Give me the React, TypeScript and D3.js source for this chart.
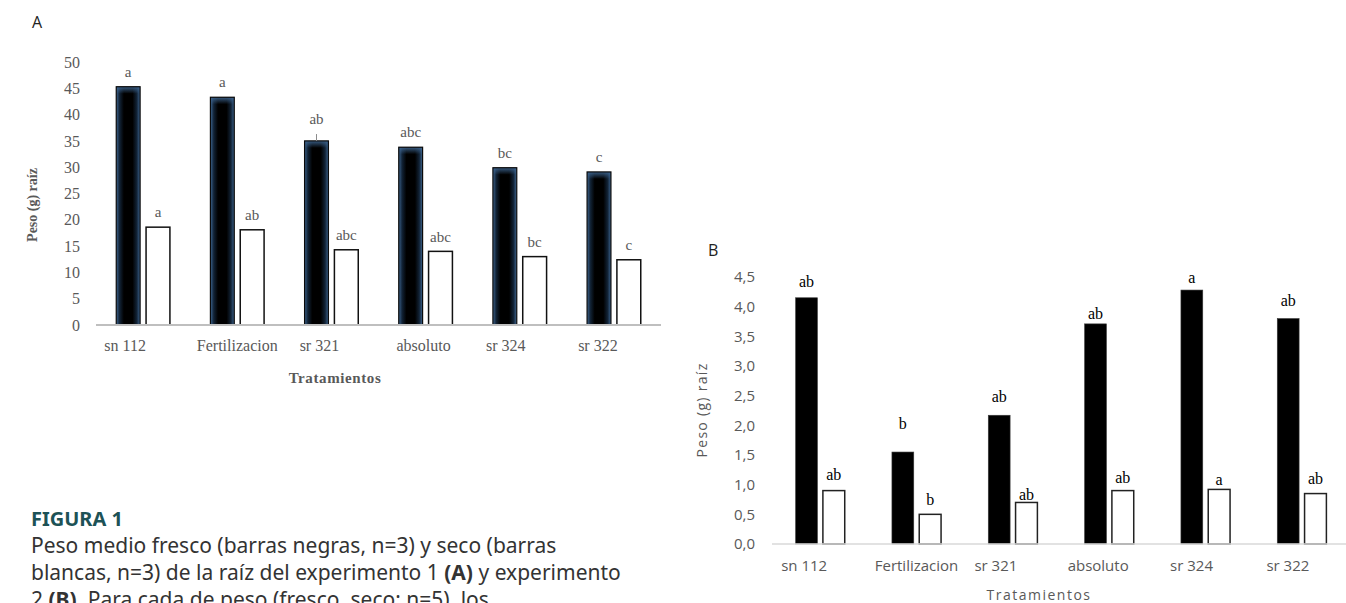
import React, { useEffect } from "react";
import * as d3 from "d3";

// Treatments (same order in both experiments)
const treatments = ["sn 112", "Fertilizacion", "sr 321", "absoluto", "sr 324", "sr 322"];
const seriesKeys = ["fresco", "seco"];

// Experiment 1 (A): root weight (g)
const freshA = [45.3, 43.3, 35.0, 33.8, 29.9, 29.1];
const dryA = [18.6, 18.1, 14.3, 14.0, 13.0, 12.4];
const freshErrA = [0, 0, 1.3, 0, 0, 0];
const dryErrA = [0, 0, 0, 0, 0, 0];
const freshLettersA = ["a", "a", "ab", "abc", "bc", "c"];
const dryLettersA = ["a", "ab", "abc", "abc", "bc", "c"];
const ticksA = [0, 5, 10, 15, 20, 25, 30, 35, 40, 45, 50];

// Experiment 2 (B): root weight (g)
const freshB = [4.15, 1.55, 2.17, 3.71, 4.28, 3.8];
const dryB = [0.9, 0.5, 0.7, 0.9, 0.92, 0.85];
const freshSeB = [0.135, 0.34, 0.19, 0.045, 0.08, 0.17];
const drySeB = [0.14, 0.12, 0.0, 0.09, 0.04, 0.12];
const freshLettersB = ["ab", "b", "ab", "ab", "a", "ab"];
const dryLettersB = ["ab", "b", "ab", "ab", "a", "ab"];
const ticksB = [0, 0.5, 1, 1.5, 2, 2.5, 3, 3.5, 4, 4.5];

// Category label offsets (Excel-style trailing padding on short names)
const labelShiftA = [-18, 0, -12, -2, -14, -16];
const labelShiftB = [-16, 0, -17, -11, -14, -14];

const serif = "'Liberation Serif', 'Times New Roman', serif";
const sans = "'Open Sans', 'Noto Sans', sans-serif";
const capFont = "'Noto Sans', 'Open Sans', sans-serif";

const commaFmt = d3.formatLocale({ decimal: ",", thousands: ".", grouping: [3], currency: ["", "€"] }).format(".1f");

function ChartA() {
  const left = 96, right = 661, top = 62, bottom = 325;
  const x0 = d3.scaleBand<string>().domain(treatments).range([left, right]).paddingInner(0.43).paddingOuter(0.215);
  const x1 = d3.scaleBand<string>().domain(seriesKeys).range([0, x0.bandwidth()]).paddingInner(0.2);
  const y = d3.scaleLinear().domain([0, 50]).range([bottom, top]);
  const grey = "#595959";
  return (
    <g>
      <defs>
        <linearGradient id="barGradH" x1="0" x2="1" y1="0" y2="0">
          <stop offset="0" stopColor="#3d6590" />
          <stop offset="0.14" stopColor="#122336" />
          <stop offset="0.32" stopColor="#000" />
          <stop offset="0.68" stopColor="#000" />
          <stop offset="0.86" stopColor="#122336" />
          <stop offset="1" stopColor="#3d6590" />
        </linearGradient>
        <linearGradient id="barGradV" x1="0" x2="0" y1="0" y2="1">
          <stop offset="0" stopColor="#3d6590" stopOpacity="0.9" />
          <stop offset="1" stopColor="#3d6590" stopOpacity="0" />
        </linearGradient>
      </defs>
      <text x={32} y={28} fontFamily={sans} fontSize={16} fill="#222">A</text>
      {ticksA.map((t) => (
        <text key={t} x={left - 16} y={y(t)} dy="0.35em" textAnchor="end" fontFamily={serif} fontSize={16} fill={grey}>
          {t}
        </text>
      ))}
      {treatments.map((c, i) => {
        const gx = x0(c)!;
        const fx = gx + x1("fresco")!;
        const dx = gx + x1("seco")!;
        const bw = x1.bandwidth();
        const fTop = y(freshA[i]);
        const dTop = y(dryA[i]);
        const fErrTop = y(freshA[i] + freshErrA[i]);
        const dErrTop = y(dryA[i] + dryErrA[i]);
        return (
          <g key={c}>
            <rect x={fx} y={fTop} width={bw} height={bottom - fTop} fill="url(#barGradH)" />
            <rect x={fx} y={fTop} width={bw} height={Math.min(7, bottom - fTop)} fill="url(#barGradV)" />
            <rect x={fx} y={fTop} width={bw} height={bottom - fTop} fill="none" stroke="#0a0a0a" strokeWidth={1.2} />
            <rect x={dx} y={dTop} width={bw} height={bottom - dTop} fill="#fff" stroke="#111" strokeWidth={1.5} />
            {freshErrA[i] > 0 && (
              <line x1={fx + bw / 2} x2={fx + bw / 2} y1={fTop} y2={fErrTop} stroke="#8c8c8c" strokeWidth={1} />
            )}
            <text x={fx + bw / 2} y={fErrTop - 15} dy="0.35em" textAnchor="middle" fontFamily={serif} fontSize={15} fill={grey}>
              {freshLettersA[i]}
            </text>
            <text x={dx + bw / 2} y={dErrTop - 15} dy="0.35em" textAnchor="middle" fontFamily={serif} fontSize={15} fill={grey}>
              {dryLettersA[i]}
            </text>
            <text x={gx + x0.bandwidth() / 2 + labelShiftA[i]} y={bottom + 20} dy="0.35em" textAnchor="middle" fontFamily={serif} fontSize={16} fill={grey}>
              {c}
            </text>
          </g>
        );
      })}
      <line x1={left} x2={right} y1={bottom} y2={bottom} stroke="#bfbfbf" strokeWidth={2.2} />
      <text transform={`translate(32,205) rotate(-90)`} dy="0.35em" textAnchor="middle" fontFamily={serif} fontWeight="bold" fontSize={14} fill={grey}>
        Peso (g) raíz
      </text>
      <text x={335} y={378} dy="0.35em" textAnchor="middle" fontFamily={serif} fontWeight="bold" fontSize={15} letterSpacing={0.6} fill={grey}>
        Tratamientos
      </text>
    </g>
  );
}

function ChartB() {
  const left = 772, right = 1350, top = 277, bottom = 544;
  const x0 = d3.scaleBand<string>().domain(treatments).range([left, right]).paddingInner(0.49).paddingOuter(0.245);
  const x1 = d3.scaleBand<string>().domain(seriesKeys).range([0, x0.bandwidth()]).paddingInner(0.2);
  const y = d3.scaleLinear().domain([0, 4.5]).range([bottom, top]);
  const grey = "#595959";
  return (
    <g>
      <text x={708} y={256} fontFamily={sans} fontSize={16} fill="#222">B</text>
      {ticksB.map((t) => (
        <text key={t} x={left - 17} y={y(t)} dy="0.35em" textAnchor="end" fontFamily={sans} fontSize={15} fill={grey}>
          {commaFmt(t)}
        </text>
      ))}
      {treatments.map((c, i) => {
        const gx = x0(c)!;
        const fx = gx + x1("fresco")!;
        const dx = gx + x1("seco")!;
        const bw = x1.bandwidth();
        const fTop = y(freshB[i]);
        const dTop = y(dryB[i]);
        return (
          <g key={c}>
            <rect x={fx} y={fTop} width={bw} height={bottom - fTop} fill="#000" stroke="#3a3a3a" strokeWidth={0.6} />
            <rect x={dx} y={dTop} width={bw} height={bottom - dTop} fill="#fff" stroke="#222" strokeWidth={1.5} />
            <text x={fx + bw / 2} y={y(freshB[i] + freshSeB[i]) - 8} dy="0.35em" textAnchor="middle" fontFamily={serif} fontSize={16} fill="#000">
              {freshLettersB[i]}
            </text>
            <text x={dx + bw / 2} y={y(dryB[i] + drySeB[i]) - 8} dy="0.35em" textAnchor="middle" fontFamily={serif} fontSize={16} fill="#000">
              {dryLettersB[i]}
            </text>
            <text x={gx + x0.bandwidth() / 2 + labelShiftB[i]} y={bottom + 22} dy="0.35em" textAnchor="middle" fontFamily={sans} fontSize={15} fill={grey}>
              {c}
            </text>
          </g>
        );
      })}
      <line x1={left} x2={right} y1={bottom} y2={bottom} stroke="#d9d9d9" strokeWidth={1.5} />
      <text transform={`translate(702,410) rotate(-90)`} dy="0.35em" textAnchor="middle" fontFamily={sans} fontSize={14} letterSpacing={1.3} fill={grey}>
        Peso (g) raíz
      </text>
      <text x={1039} y={595} dy="0.35em" textAnchor="middle" fontFamily={sans} fontSize={14} letterSpacing={1.5} fill={grey}>
        Tratamientos
      </text>
    </g>
  );
}

function Caption() {
  return (
    <g fontFamily={capFont} fontSize={21} fill="#333">
      <text x={31} y={526} fontWeight="bold" fontSize={20} fill="#1d5256">FIGURA 1</text>
      <text x={31} y={553}>Peso medio fresco (barras negras, n=3) y seco (barras</text>
      <text x={31} y={580}>
        blancas, n=3) de la raíz del experimento 1 <tspan fontWeight="bold">(A)</tspan> y experimento
      </text>
      <text x={31} y={607}>
        2 <tspan fontWeight="bold">(B)</tspan>. Para cada de peso (fresco, seco; n=5), los
      </text>
    </g>
  );
}

export default function App() {
  useEffect(() => {
    document.body.style.margin = "0";
    document.body.style.overflow = "hidden";
  }, []);
  return (
    <svg width={1346} height={603} style={{ display: "block", position: "absolute", left: 0, top: 0, background: "#fff" }}>
      <rect width={1346} height={603} fill="#fff" />
      <ChartA />
      <ChartB />
      <Caption />
    </svg>
  );
}
